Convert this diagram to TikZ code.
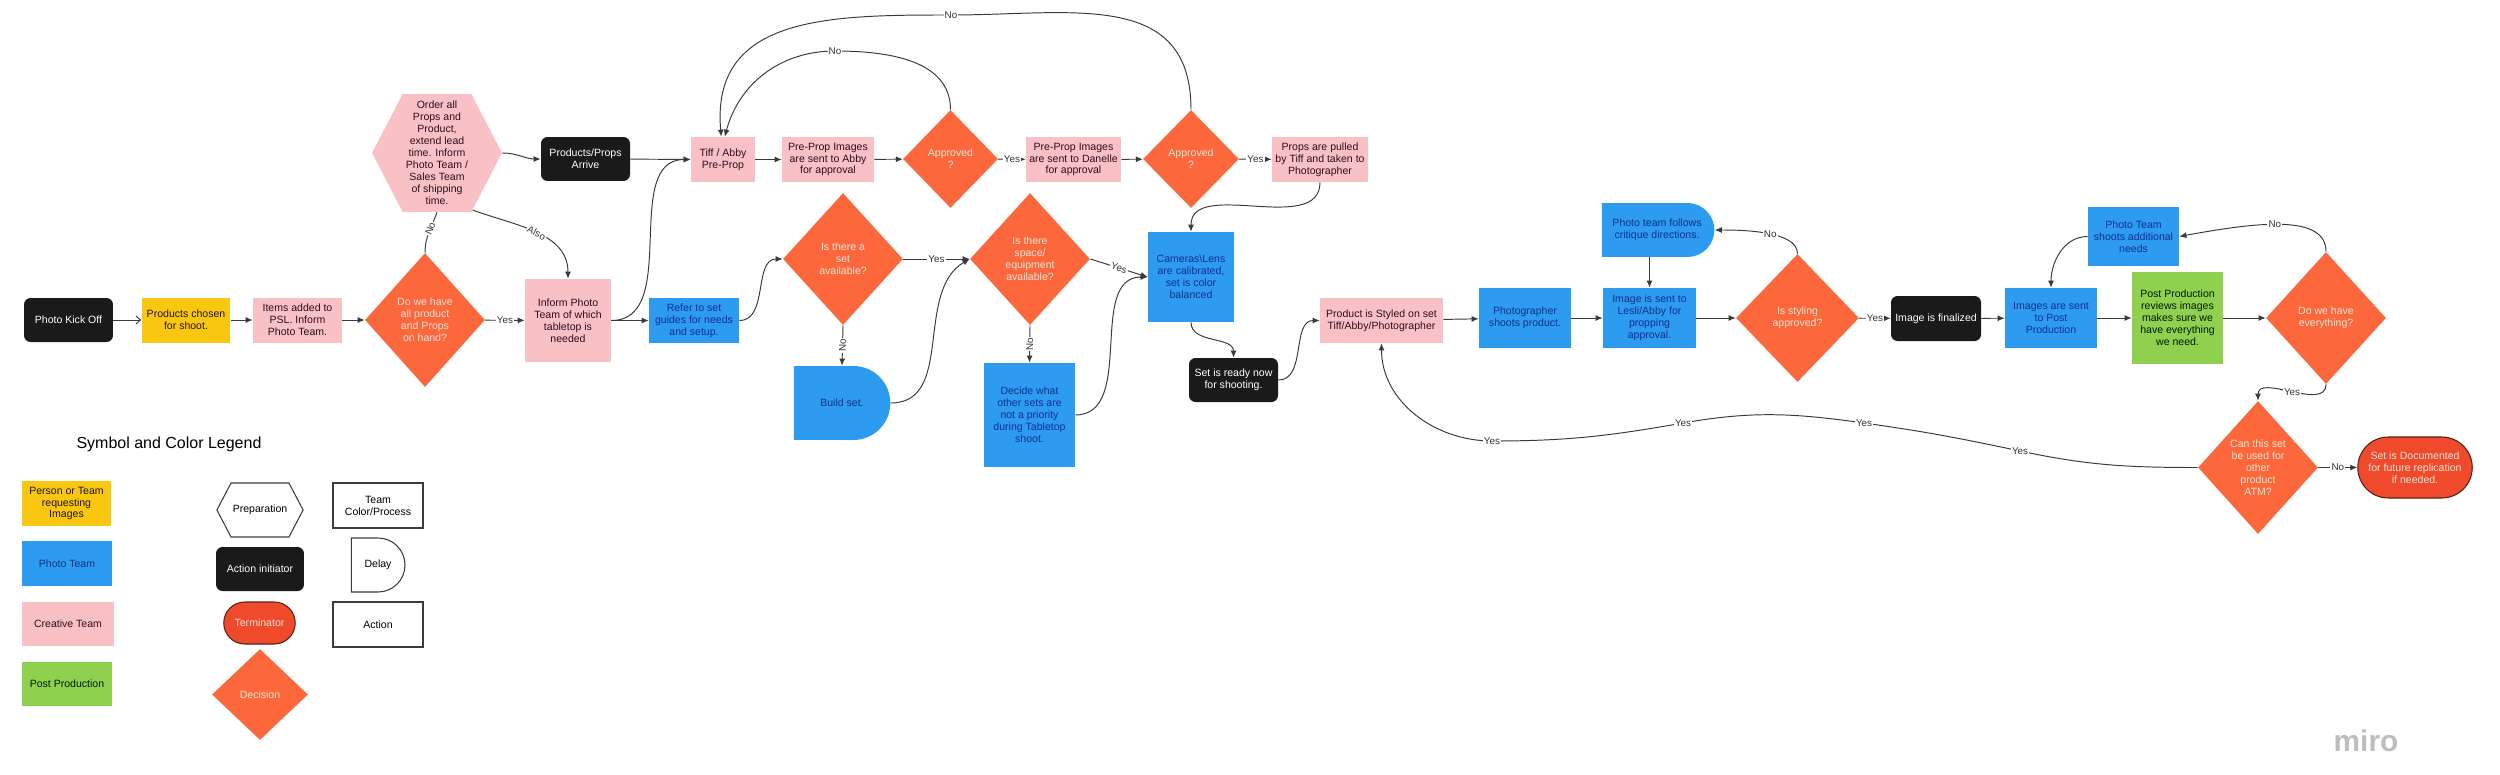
\documentclass[tikz,border=0pt]{standalone}
\usepackage{fontspec}
\setmainfont{Liberation Sans}
\usepackage{tikz}
\usetikzlibrary{calc}
\usetikzlibrary{arrows.meta}
\usetikzlibrary{shapes}
\usetikzlibrary{shapes.geometric}
\usetikzlibrary{shapes.symbols}
\usetikzlibrary{shapes.misc}

\definecolor{creative}{HTML}{F9C0C6}
\definecolor{photo}{HTML}{2D9BF0}
\definecolor{person}{HTML}{FAC710}
\definecolor{post}{HTML}{8FD14F}
\definecolor{initc}{HTML}{1A1A1A}
\definecolor{decc}{HTML}{FC683B}
\definecolor{termc}{HTML}{EE4A2B}
\definecolor{termd}{HTML}{5C1F14}
\definecolor{bluetext}{HTML}{10308C}
\definecolor{pinktext}{HTML}{2E0D1E}
\definecolor{dectext}{HTML}{FFE4D8}
\definecolor{linec}{HTML}{3A3A3A}
\definecolor{labc}{HTML}{333333}
\definecolor{outc}{HTML}{3C3C3C}
\definecolor{miroc}{HTML}{BDBDBD}

\tikzset{
  base/.style={font=\fontsize{6}{6.8}\selectfont, align=center, inner sep=1pt},
  sz/.style 2 args={minimum width=#1cm, minimum height=#2cm},
  pinkbox/.style={base, rectangle, fill=creative, text=pinktext},
  bluebox/.style={base, rectangle, fill=photo, text=bluetext},
  yellowbox/.style={base, rectangle, fill=person, text=black!85!brown},
  greenbox/.style={base, rectangle, fill=post, text=black!90!green},
  blackbox/.style={base, rectangle, rounded corners=0.13cm, fill=initc, text=white},
  decbox/.style={base, diamond, inner sep=0pt, fill=decc, text=dectext},
  prep/.style={base, signal, signal to=west and east, signal pointer angle=125},
  delaybox/.style={base, rounded rectangle, rounded rectangle left arc=none},
  termbox/.style={base, rounded rectangle, fill=termc, draw=termd, line width=0.6pt, text=dectext},
  outbox/.style={base, rectangle, draw=outc, fill=white, line width=0.6pt},
  conn/.style={draw=linec, line width=0.55pt},
  arr/.style={conn, -{Latex[length=4pt, width=3.4pt]}},
  lbl/.style={fill=white, inner sep=0.6pt, text=labc, font=\fontsize{5.6}{6}\selectfont}
}

\begin{document}
\begin{tikzpicture}[x=0.02cm, y=-0.02cm]
\fill [white] (0,0) rectangle (2500,774);
\useasboundingbox (0,0) rectangle (2500,774);

% first row
\node [blackbox, sz={1.78}{0.88}] (PK) at (68.5, 320) {Photo Kick Off};
\node [yellowbox, sz={1.78}{0.9}] (PC) at (186, 320) {Products chosen\\for shoot.};
\node [pinkbox, sz={1.78}{0.9}] (IA) at (297.5, 320) {Items added to\\PSL. Inform\\Photo Team.};
\node [decbox, sz={2.4}{2.68}] (DH) at (425, 320) {Do we have\\all product\\and Props\\on hand?};
\node [prep, fill=creative, text=pinktext, sz={2.6}{2.36}, inner sep=0pt] (OP) at (437, 153) {Order all\\Props and\\Product,\\extend lead\\time. Inform\\Photo Team /\\Sales Team\\of shipping\\time.};
\node [blackbox, sz={1.78}{0.88}] (PPA) at (585.5, 159) {Products/Props\\Arrive};
\node [pinkbox, sz={1.72}{1.66}] (IP) at (568, 320.5) {Inform Photo\\Team of which\\tabletop is\\needed};
\node [bluebox, sz={1.8}{0.9}] (RS) at (694, 320.5) {Refer to set\\guides for needs\\and setup.};

% pre-prop row
\node [pinkbox, sz={1.28}{0.9}] (TA) at (723, 159.5) {Tiff / Abby\\Pre-Prop};
\node [pinkbox, sz={1.84}{0.9}] (PA) at (828, 159.5) {Pre-Prop Images\\are sent to Abby\\for approval};
\node [decbox, sz={1.9}{1.96}] (AP1) at (950.5, 159) {Approved\\?};
\node [pinkbox, sz={1.9}{0.9}] (PD) at (1073.5, 159.5) {Pre-Prop Images\\are sent to Danelle\\for approval};
\node [decbox, sz={1.92}{1.96}] (AP2) at (1191, 159) {Approved\\?};
\node [pinkbox, sz={1.92}{0.9}] (PT) at (1320, 159.5) {Props are pulled\\by Tiff and taken to\\Photographer};

% set row
\node [decbox, sz={2.4}{2.64}] (SA) at (843, 259) {Is there a\\set\\available?};
\node [decbox, sz={2.4}{2.64}] (SE) at (1030, 259) {Is there\\space/\\equipment\\available?};
\node [delaybox, fill=photo, text=bluetext, sz={2.0}{1.48}] (BS) at (842, 403) {Build set.};
\node [bluebox, sz={1.82}{2.08}] (DW) at (1029.5, 415) {Decide what\\other sets are\\not a priority\\during Tabletop\\shoot.};
\node [bluebox, sz={1.72}{1.8}] (CL) at (1191, 277) {Cameras\textbackslash Lens\\are calibrated,\\set is color\\balanced};
\node [blackbox, sz={1.78}{0.88}] (SR) at (1233.5, 380) {Set is ready now\\for shooting.};

% shooting row
\node [pinkbox, sz={2.46}{0.9}] (PS) at (1381.5, 320.5) {Product is Styled on set\\Tiff/Abby/Photographer};
\node [bluebox, sz={1.84}{1.2}] (PH) at (1525, 318) {Photographer\\shoots product.};
\node [bluebox, sz={1.86}{1.2}] (IS) at (1649.5, 318) {Image is sent to\\Lesli/Abby for\\propping\\approval.};
\node [delaybox, fill=photo, text=bluetext, sz={2.32}{1.08}] (PF) at (1657, 230) {Photo team follows\\critique directions.};
\node [decbox, sz={2.46}{2.56}] (ISA) at (1797.5, 318) {Is styling\\approved?};
\node [blackbox, sz={1.8}{0.9}] (IF) at (1936, 318.5) {Image is finalized};
\node [bluebox, sz={1.84}{1.2}] (IPP) at (2051, 318) {Images are sent\\to Post\\Production};
\node [bluebox, sz={1.82}{1.18}] (PTA) at (2133.5, 236.5) {Photo Team\\shoots additional\\needs};
\node [greenbox, sz={1.82}{1.84}] (PPR) at (2177.5, 318) {Post Production\\reviews images\\makes sure we\\have everything\\we need.};
\node [decbox, sz={2.4}{2.64}] (DE) at (2326, 318) {Do we have\\everything?};
\node [decbox, sz={2.4}{2.66}] (CS) at (2258, 467.5) {Can this set\\be used for\\other\\product\\ATM?};
\node [termbox, sz={2.36}{1.22}] (SD) at (2415, 467.5) {Set is Documented\\for future replication\\if needed.};

% points the long connectors run through
\coordinate (N1) at (835, 51);
\coordinate (N2) at (951, 15);
\coordinate (Y1) at (2020, 451);
\coordinate (Y2) at (1864, 423);
\coordinate (Y3) at (1683, 423);
\coordinate (Y4) at (1492, 441);

% connectors
\draw [conn, -{Straight Barb[length=2.5pt, width=4.5pt]}] (PK) to (PC);
\draw [arr] (PC) to (IA);
\draw [arr] (IA) to (DH);
\draw [arr] (DH) to node [lbl] {Yes} (IP);
\draw [conn] (DH.north) to [out=90, in=-110] node [lbl, sloped, pos=0.6] {No} (OP.south);
\draw [arr] (OP.east) to [out=0, in=180] (PPA.west);
\draw [arr] (OP.-58) to [out=-20, in=90] node [lbl, sloped] {Also} (IP.north);
\draw [arr] (PPA) to (TA);
\draw [arr] (IP.east) to [out=0, in=180] (TA.west);
\draw [arr] (IP) to (RS);
\draw [arr] (RS.east) to [out=0, in=180] (SA.west);
\draw [arr] (TA) to (PA);
\draw [arr] (PA) to (AP1);
\draw [arr] (AP1) to node [lbl] {Yes} (PD);
\draw [arr] (PD) to (AP2);
\draw [arr] (AP2) to node [lbl] {Yes} (PT);
\draw [arr] (AP1.north) to [out=90, in=0] (N1) node [lbl] {No} to [out=180, in=75] ([xshift=1pt]TA.north);
\draw [arr] (AP2.north) to [out=90, in=0, looseness=1.2] (N2) node [lbl] {No} to [out=180, in=95, looseness=1.2] ([xshift=-1pt]TA.north);
\draw [arr] (SA) to node [lbl] {Yes} (SE);
\draw [arr] (SA.south) to node [lbl, rotate=90] {No} (BS.north);
\draw [arr] (SE.south) to node [lbl, rotate=90] {No} (DW.north);
\draw [arr] (BS.east) to [out=0, in=-150] (SE.west);
\draw [arr] (SE.east) to node [lbl, sloped] {Yes} (CL.west);
\draw [arr] (DW.east) to [out=0, in=180] (CL.west);
\draw [arr] (PT.south) to [out=-90, in=90] (CL.north);
\draw [arr] (CL.south) to [out=-90, in=90] (SR.north);
\draw [arr] (SR.east) to [out=0, in=180] (PS.west);
\draw [arr] (PS) to (PH);
\draw [arr] (PH) to (IS);
\draw [arr] (IS) to (ISA);
\draw [arr] (IS.north |- PF.south) to (IS.north);
\draw [arr] (ISA.north) to [out=90, in=0, looseness=0.7] node [lbl, pos=0.45] {No} (PF.east);
\draw [arr] (ISA) to node [lbl] {Yes} (IF);
\draw [arr] (IF) to (IPP);
\draw [arr] (IPP) to (PPR);
\draw [arr] (PPR) to (DE);
\draw [arr] (DE.north) .. controls +(0,-37) and +(81,-15) .. (PTA.east) node [lbl, pos=0.55] {No};
\draw [arr] (PTA.west) to [out=180, in=90] (IPP.north);
\draw [arr] (DE.south) to [out=-90, in=90] node [lbl] {Yes} (CS.north);
\draw [arr] (CS) to node [lbl] {No} (SD);
\draw [arr] (CS.west) to [out=180, in=-12] (Y1) node [lbl] {Yes}
  to [out=168, in=-8] (Y2) node [lbl] {Yes}
  to [out=172, in=10] (Y3) node [lbl] {Yes}
  to [out=190, in=0] (Y4) node [lbl] {Yes}
  to [out=180, in=-90] (PS.south);

% legend
\node [font=\fontsize{9.1}{11}\selectfont] (LT) at (169, 444) {Symbol and Color Legend};
\node [yellowbox, sz={1.78}{0.9}] (LY) at (66.5, 503.5) {Person or Team\\requesting\\Images};
\node [bluebox, sz={1.8}{0.9}] (LB) at (67, 563.5) {Photo Team};
\node [pinkbox, sz={1.84}{0.88}] (LP) at (68, 624) {Creative Team};
\node [greenbox, sz={1.8}{0.88}] (LG) at (67, 684) {Post Production};
\node [prep, draw=outc, fill=white, line width=0.6pt, sz={1.48}{1.08}] (LPR) at (260, 510) {Preparation};
\node [blackbox, sz={1.76}{0.88}] (LAI) at (260, 569) {Action initiator};
\node [termbox, sz={1.5}{0.84}] (LTM) at (259.5, 623) {Terminator};
\node [decbox, sz={1.92}{1.82}] (LDC) at (260, 694.5) {Decision};
\node [outbox, sz={1.8}{0.9}] (LTC) at (378, 505.5) {Team\\Color/Process};
\node [delaybox, draw=outc, fill=white, line width=0.6pt, sz={1.08}{1.08}] (LDL) at (378, 565) {Delay};
\node [outbox, sz={1.8}{0.9}] (LAC) at (378, 624.5) {Action};

\node [text=miroc, font=\fontsize{17}{17}\selectfont\bfseries] (MR) at (2366, 741) {miro};
\end{tikzpicture}
\end{document}
